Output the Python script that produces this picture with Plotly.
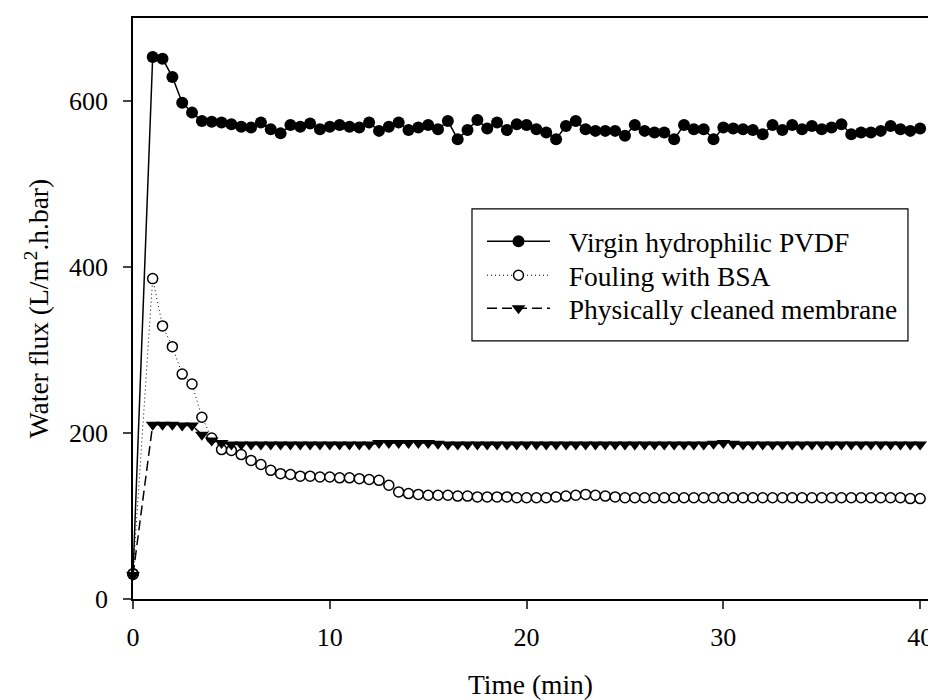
import plotly.graph_objects as go

# Sampling times (min)
time_min = [0, 1, 1.5, 2, 2.5, 3, 3.5, 4, 4.5, 5, 5.5, 6, 6.5, 7, 7.5, 8, 8.5, 9, 9.5, 10,
            10.5, 11, 11.5, 12, 12.5, 13, 13.5, 14, 14.5, 15, 15.5, 16, 16.5, 17, 17.5, 18, 18.5, 19, 19.5, 20,
            20.5, 21, 21.5, 22, 22.5, 23, 23.5, 24, 24.5, 25, 25.5, 26, 26.5, 27, 27.5, 28, 28.5, 29, 29.5, 30,
            30.5, 31, 31.5, 32, 32.5, 33, 33.5, 34, 34.5, 35, 35.5, 36, 36.5, 37, 37.5, 38, 38.5, 39, 39.5, 40]

# Water flux, L/m2.h.bar
virgin_pvdf = [30, 653, 651, 629, 598, 586, 576, 575, 574, 572, 569, 568, 574, 566, 561, 571, 569, 573, 566, 569,
               571, 569, 568, 574, 564, 569, 574, 565, 568, 571, 566, 576, 554, 565, 577, 567, 574, 565, 572, 571,
               566, 562, 554, 570, 576, 566, 564, 564, 564, 558, 571, 564, 562, 562, 554, 571, 566, 566, 554, 568,
               567, 566, 565, 560, 571, 565, 571, 566, 570, 566, 568, 572, 560, 562, 562, 564, 570, 566, 564, 567]

fouling_bsa = [30, 386, 329, 304, 271, 259, 219, 194, 180, 179, 174, 167, 162, 155, 151, 150, 148, 148, 147, 147,
               146, 146, 145, 144, 143, 137, 129, 127, 126, 125, 125, 125, 124, 124, 123, 123, 123, 123, 122, 122,
               122, 122, 123, 124, 125, 126, 125, 124, 123, 122, 122, 122, 122, 122, 122, 122, 122, 122, 122, 122,
               122, 122, 122, 122, 122, 122, 122, 122, 122, 122, 122, 122, 122, 122, 122, 122, 122, 122, 121, 121]

cleaned = [29, 210, 210, 210, 209, 209, 198, 191, 188, 186, 186, 186, 186, 186, 186, 186, 186, 186, 186, 186,
           186, 186, 186, 186, 188, 188, 188, 188, 188, 188, 187, 186, 186, 186, 186, 186, 186, 186, 186, 186,
           186, 186, 186, 186, 186, 186, 186, 186, 186, 186, 186, 186, 186, 186, 186, 186, 186, 186, 187, 188,
           187, 186, 186, 186, 186, 186, 186, 186, 186, 186, 186, 186, 186, 186, 186, 186, 186, 186, 186, 186]

series_names = ["Virgin hydrophilic PVDF", "Fouling with BSA", "Physically cleaned membrane"]
x_ticks = [0, 10, 20, 30, 40]
y_ticks = [0, 200, 400, 600]

FONT = "Liberation Serif, Times New Roman, serif"
GAP = "\u00a0\u00a0"  # extra space between legend symbol and label

fig = go.Figure()
fig.add_trace(go.Scatter(
    x=time_min, y=virgin_pvdf, name=GAP + series_names[0], mode="lines+markers",
    line=dict(color="black", width=1.5),
    marker=dict(symbol="circle", size=12, color="black"),
    cliponaxis=False, legend="legend",
))
fig.add_trace(go.Scatter(
    x=time_min, y=fouling_bsa, name=GAP + series_names[1], mode="lines+markers",
    line=dict(color="black", width=1, dash="1px,3px"),
    marker=dict(symbol="circle", size=10, color="white", line=dict(color="black", width=1.5)),
    cliponaxis=False, legend="legend2",
))
fig.add_trace(go.Scatter(
    x=time_min, y=cleaned, name=GAP + series_names[2], mode="lines+markers",
    line=dict(color="black", width=1.5, dash="10px,5px"),
    marker=dict(symbol="triangle-down", size=12, color="black"),
    cliponaxis=False, legend="legend3",
))

# one legend row per series, stacked inside a shared frame
legend_style = dict(
    x=0.439, xanchor="left", yanchor="top",
    borderwidth=0, bgcolor="rgba(0,0,0,0)",
    font=dict(family=FONT, size=27.5, color="black"),
    itemwidth=63, tracegroupgap=0,
)

fig.update_layout(
    width=928, height=700,
    margin=dict(l=133, r=0, t=18, b=101, autoexpand=False),
    paper_bgcolor="white", plot_bgcolor="white",
    font=dict(family=FONT, size=26, color="black"),
    showlegend=True,
    legend=dict(legend_style, y=0.6577),
    legend2=dict(legend_style, y=0.5992),
    legend3=dict(legend_style, y=0.5424),
    shapes=[dict(type="rect", xref="paper", yref="paper",
                 x0=0.4264, x1=0.9748, y0=0.4443, y1=0.6714,
                 line=dict(color="black", width=1.2), fillcolor="rgba(0,0,0,0)", layer="above")],
)

fig.update_xaxes(
    range=[0, 40.4], tickvals=x_ticks, ticks="outside", ticklen=8, tickwidth=1.5,
    showline=True, linecolor="black", linewidth=1.5, mirror=True, showgrid=False, zeroline=False,
    ticklabelstandoff=6, ticklabeloverflow="allow", automargin=False,
    title=dict(text="Time (min)", font=dict(family=FONT, size=27.5), standoff=35),
    tickfont=dict(family=FONT, size=26),
)
fig.update_yaxes(
    range=[0, 700], tickvals=y_ticks, ticks="outside", ticklen=8, tickwidth=1.5,
    showline=True, linecolor="black", linewidth=1.5, mirror=False, showgrid=False, zeroline=False,
    ticklabelstandoff=10, automargin=False,
    title=dict(text="Water flux (L/m<sup>2</sup>.h.bar)", font=dict(family=FONT, size=27.5), standoff=12),
    tickfont=dict(family=FONT, size=26),
)

fig.write_html("out.html")
